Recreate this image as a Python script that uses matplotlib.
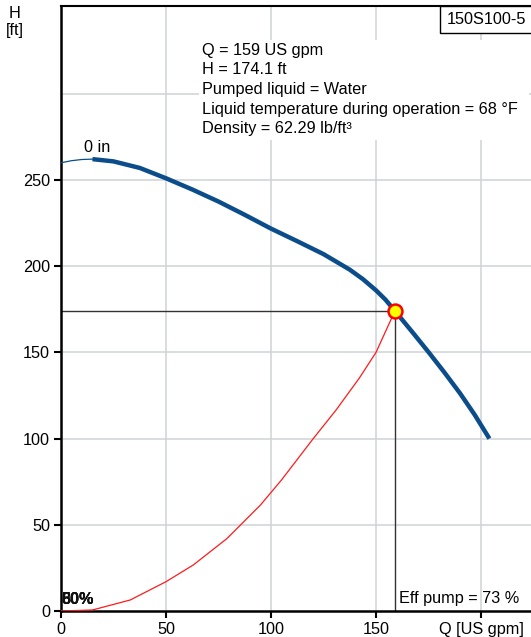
import matplotlib
matplotlib.use("Agg")
import matplotlib.pyplot as plt
from matplotlib.patches import Rectangle

plt.rcParams['font.family'] = ['Liberation Sans', 'DejaVu Sans']

# pump curve (H vs Q)
q_thin = [0, 5, 10, 15]
h_thin = [260, 261.2, 261.9, 262.1]
q_pump = [15, 25, 37.5, 50, 62.5, 75, 87.5, 100, 112.5, 125, 137.5, 143.75, 150,
          154.5, 159, 167.5, 175, 182.5, 190, 197, 204]
h_pump = [262.1, 260.8, 257, 251, 244.5, 237.5, 229.8, 221.8, 214.5, 207, 198,
          192.5, 186, 180.6, 174.1, 161.5, 150.2, 138.5, 126.3, 113.8, 100]

# red curve up to duty point
q_red = [0, 15, 33, 50, 63, 79, 95, 105, 120, 131, 142, 150, 157.5, 159]
h_red = [0, 0.6, 6.4, 17, 26.7, 42, 61.5, 76, 99.8, 116.6, 135, 150, 170, 174.1]

duty_q = 159
duty_h = 174.1

info_lines = ["Q = 159 US gpm", "H = 174.1 ft", "Pumped liquid = Water",
              "Liquid temperature during operation = 68 \u00b0F",
              "Density = 62.29 lb/ft\u00b3"]
xticks = [0, 50, 100, 150, 200]
xticklabels = ["0", "50", "100", "150", "Q [US gpm]"]
yticks = [0, 50, 100, 150, 200, 250]

FS = 11.7
W, H = 531, 637
fig = plt.figure(figsize=(W / 100, H / 100), dpi=100)
# axes extends a bit past the right edge of the picture
ax = fig.add_axes([61 / W, 26 / H, 480 / W, 605 / H])
ax.set_xlim(0, 480 / 2.1)
ax.set_ylim(0, 605 / 1.724)

grid_c = '#cfd3d6'
for x in [50, 100, 150, 200]:
    ax.axvline(x, color=grid_c, lw=1.1, zorder=0)
for y in [50, 100, 150, 200, 250, 300]:
    ax.axhline(y, color=grid_c, lw=1.1, zorder=0)

# white panel behind the info text
ax.add_patch(Rectangle((199 / W, 1 - 140 / H), 330 / W, 100 / H,
                       transform=fig.transFigure, facecolor='white',
                       edgecolor='none', zorder=1))
for i, s in enumerate(info_lines):
    fig.text(202 / W, 1 - (50 + i * 19.7) / H, s, fontsize=FS,
             ha='left', va='center', zorder=5)

blue = '#0b4d8a'
ax.plot(q_thin, h_thin, color=blue, lw=0.9, zorder=3)
ax.plot(q_pump, h_pump, color=blue, lw=3.2, zorder=3, solid_capstyle='butt')
ax.text(17, 268.6, "0 in", fontsize=FS, ha='center', va='center')

ax.plot(q_red, h_red, color='#ff1a1a', lw=0.9, zorder=3)

ax.plot([0, duty_q], [duty_h, duty_h], color='#333333', lw=1.0, zorder=2)
ax.plot([duty_q, duty_q], [0, duty_h], color='#333333', lw=1.0, zorder=2)
ax.plot([duty_q], [duty_h], 'o', ms=10, mfc='#ffff00', mec='#ff0000',
        mew=1.8, zorder=6)

ax.text(161, 7, "Eff pump = 73 %", fontsize=FS, ha='left', va='center')
for s in ["50%", "60%", "80%"]:
    ax.text(0.4, 2.5, s, fontsize=FS, ha='left', va='bottom', color='#111111',
            fontweight='bold')

ax.set_xticks(xticks)
ax.set_xticklabels(xticklabels)
ax.set_yticks(yticks)
ax.tick_params(axis='both', length=5, width=1.5, labelsize=FS, pad=3,
               direction='out')
for sp in ['left', 'bottom']:
    ax.spines[sp].set_linewidth(1.8)
ax.spines['top'].set_linewidth(1.5)
ax.spines['right'].set_visible(False)

fig.text(15 / W, 1 - 14 / H, "H", fontsize=FS, ha='center', va='center')
fig.text(15 / W, 1 - 31 / H, "[ft]", fontsize=FS, ha='center', va='center')

# model box at top right
fig.add_artist(Rectangle((440 / W, 1 - 33 / H), 100 / W, 27 / H,
                         transform=fig.transFigure, facecolor='white',
                         edgecolor='black', lw=1.0))
fig.text(447 / W, 1 - 19.5 / H, "150S100-5", fontsize=FS, ha='left',
         va='center')

fig.savefig("out.png", dpi=100)
